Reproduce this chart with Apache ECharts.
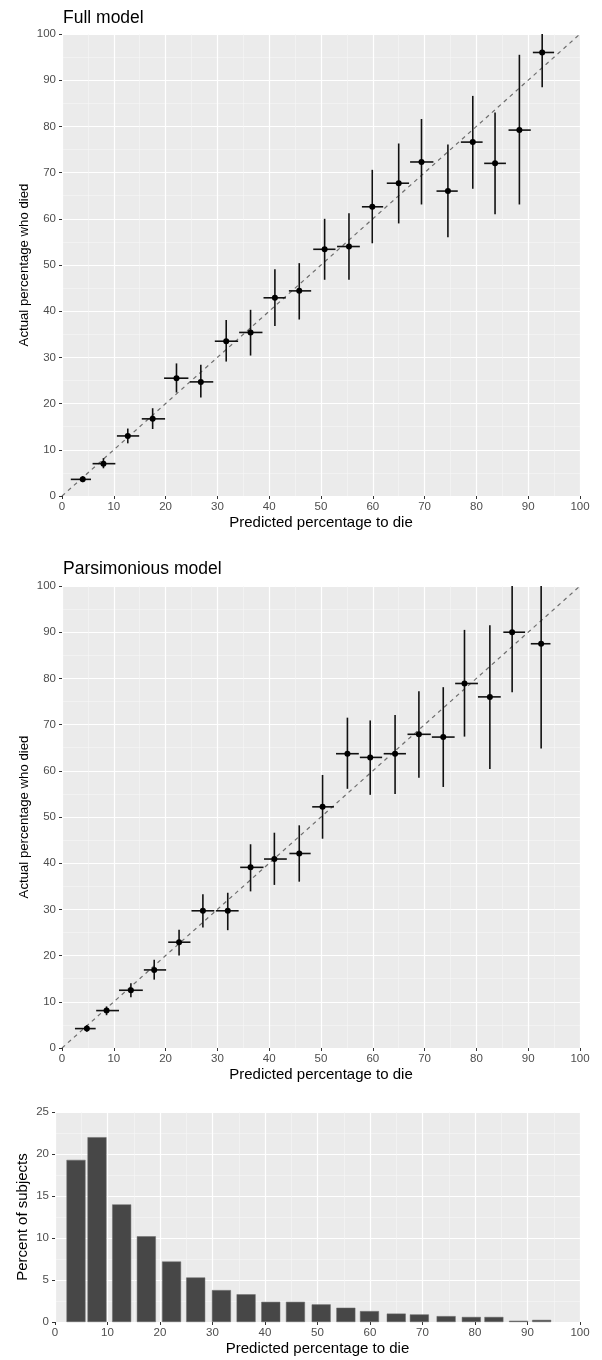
<!DOCTYPE html>
<html>
<head>
<meta charset="utf-8">
<script src="https://cdn.jsdelivr.net/npm/echarts@6/dist/echarts.min.js"></script>
<style>
  html, body { margin: 0; padding: 0; background: #fff; }
  #chart { width: 602px; height: 1360px; }
</style>
</head>
<body>
<div id="chart"></div>
<script>
// full model calibration groups
const fullX     = [4.0, 8.0, 12.7, 17.5, 22.1, 26.8, 31.7, 36.4, 41.1, 45.8, 50.7, 55.4, 59.9, 65.0, 69.4, 74.5, 79.3, 83.6, 88.3, 92.7];
const fullY     = [3.6, 7.0, 13.0, 16.7, 25.5, 24.7, 33.5, 35.4, 42.9, 44.4, 53.4, 54.0, 62.6, 67.7, 72.3, 66.0, 76.6, 72.0, 79.2, 96.0];
const fullYLow  = [3.0, 6.0, 11.4, 14.5, 22.4, 21.3, 29.1, 30.4, 36.8, 38.2, 46.8, 46.8, 54.7, 59.0, 63.1, 56.0, 66.5, 61.0, 63.1, 88.5];
const fullYHigh = [4.3, 8.2, 14.6, 19.0, 28.7, 28.4, 38.1, 40.3, 49.1, 50.4, 60.0, 61.2, 70.6, 76.3, 81.6, 76.1, 86.6, 83.0, 95.5, 100];
const fullXLow  = [1.7, 5.9, 10.6, 15.4, 19.7, 24.7, 29.5, 34.2, 38.9, 43.8, 48.5, 53.1, 57.9, 62.7, 67.2, 72.3, 77.0, 81.5, 86.2, 90.9];
const fullXHigh = [5.6, 10.3, 14.9, 19.9, 24.4, 29.2, 34.0, 38.7, 43.2, 48.1, 52.8, 57.5, 62.0, 67.0, 71.7, 76.4, 81.2, 85.7, 90.5, 95.0];

// parsimonious model calibration groups
const parsX     = [4.8, 8.6, 13.3, 17.8, 22.6, 27.2, 32.0, 36.4, 41.0, 45.8, 50.3, 55.1, 59.5, 64.3, 68.9, 73.6, 77.7, 82.6, 86.9, 92.5];
const parsY     = [4.2, 8.1, 12.5, 16.9, 22.9, 29.7, 29.7, 39.1, 40.9, 42.1, 52.2, 63.7, 62.9, 63.7, 67.9, 67.3, 78.9, 76.0, 90.0, 87.5];
const parsYLow  = [3.5, 7.1, 11.0, 14.8, 20.0, 26.1, 25.5, 33.9, 35.3, 36.0, 45.3, 56.1, 54.8, 55.0, 58.5, 56.5, 67.4, 60.4, 77.0, 64.8];
const parsYHigh = [4.9, 9.0, 14.0, 19.1, 25.6, 33.3, 33.6, 44.1, 46.6, 48.2, 59.1, 71.5, 70.9, 72.1, 77.2, 78.1, 90.5, 91.5, 100, 100];
const parsXLow  = [2.5, 6.6, 11.0, 15.8, 20.5, 25.0, 29.7, 34.4, 39.0, 43.9, 48.3, 52.9, 57.5, 62.1, 66.7, 71.4, 75.9, 80.3, 85.2, 90.5];
const parsXHigh = [6.5, 11.0, 15.6, 20.1, 24.8, 29.4, 34.1, 38.9, 43.4, 48.0, 52.5, 57.3, 61.8, 66.4, 71.2, 75.8, 80.3, 84.7, 89.4, 94.3];

// histogram of predicted risk
const histX   = [4.0, 8.0, 12.7, 17.4, 22.2, 26.8, 31.7, 36.4, 41.1, 45.8, 50.7, 55.4, 59.9, 65.0, 69.4, 74.5, 79.3, 83.6, 88.3, 92.7];
const histPct = [19.3, 22.0, 14.0, 10.2, 7.2, 5.3, 3.8, 3.3, 2.4, 2.4, 2.1, 1.7, 1.3, 1.0, 0.9, 0.7, 0.6, 0.6, 0.15, 0.25];

const diagonal = [[0, 0], [100, 100]];

const FONT = "'Liberation Sans', Arial, sans-serif";
const PANEL_BG = "#ebebeb";

function zip(x, y, yl, yh, xl, xh) {
  return x.map((v, i) => [v, y[i], yl[i], yh[i], xl[i], xh[i]]);
}

function renderCross(params, api) {
  const p = api.coord([api.value(0), api.value(1)]);
  const top = api.coord([api.value(0), api.value(3)]);
  const bot = api.coord([api.value(0), api.value(2)]);
  const left = api.coord([api.value(4), api.value(1)]);
  const right = api.coord([api.value(5), api.value(1)]);
  const st = { stroke: "#111", lineWidth: 1.6 };
  return {
    type: "group",
    children: [
      { type: "line", shape: { x1: top[0], y1: top[1], x2: bot[0], y2: bot[1] }, style: st },
      { type: "line", shape: { x1: left[0], y1: left[1], x2: right[0], y2: right[1] }, style: st },
      { type: "circle", shape: { cx: p[0], cy: p[1], r: 3 }, style: { fill: "#000" } },
    ],
  };
}

function xAxisOf(gridIndex) {
  return {
    type: "value",
    gridIndex,
    min: 0,
    max: 100,
    interval: 10,
    name: "Predicted percentage to die",
    nameLocation: "middle",
    nameGap: 19,
    nameMoveOverlap: false,
    nameTextStyle: { color: "#000", fontSize: 15, fontFamily: FONT },
    axisLine: { show: false },
    axisTick: { show: true, length: 3, lineStyle: { color: "#333", width: 1 } },
    axisLabel: { color: "#4d4d4d", fontSize: 11.5, fontFamily: FONT, margin: 5 },
    splitLine: { show: true, lineStyle: { color: "#fff", width: 1.2 } },
    minorTick: { show: false, splitNumber: 2 },
    minorSplitLine: { show: true, lineStyle: { color: "#f7f7f7", width: 0.6 } },
  };
}

function yAxisOf(gridIndex, max, interval, name, gap, nameSize) {
  return {
    type: "value",
    gridIndex,
    min: 0,
    max,
    interval,
    name,
    nameLocation: "middle",
    nameGap: gap,
    nameMoveOverlap: false,
    nameTextStyle: { color: "#000", fontSize: nameSize, fontFamily: FONT },
    axisLine: { show: false },
    axisTick: { show: true, length: 3, lineStyle: { color: "#333", width: 1 } },
    axisLabel: { color: "#4d4d4d", fontSize: 11.5, fontFamily: FONT, margin: 6 },
    splitLine: { show: true, lineStyle: { color: "#fff", width: 1.2 } },
    minorTick: { show: false, splitNumber: 2 },
    minorSplitLine: { show: true, lineStyle: { color: "#f7f7f7", width: 0.6 } },
  };
}

function diagSeries(idx) {
  return {
    type: "line",
    xAxisIndex: idx,
    yAxisIndex: idx,
    data: diagonal,
    symbol: "none",
    silent: true,
    lineStyle: { color: "#6e6e6e", width: 1.2, type: [4, 4] },
    z: 2,
  };
}

const chart = echarts.init(document.getElementById("chart"), null, { renderer: "canvas" });

chart.setOption({
  animation: false,
  backgroundColor: "#fff",
  title: [
    { text: "Full model", left: 58, top: 4, textStyle: { fontSize: 17.5, fontWeight: "normal", color: "#000", fontFamily: FONT } },
    { text: "Parsimonious model", left: 58, top: 555, textStyle: { fontSize: 17.5, fontWeight: "normal", color: "#000", fontFamily: FONT } },
  ],
  grid: [
    { left: 62, top: 34, width: 518, height: 462, show: true, backgroundColor: PANEL_BG, borderWidth: 0 },
    { left: 62, top: 586, width: 518, height: 462, show: true, backgroundColor: PANEL_BG, borderWidth: 0 },
    { left: 55, top: 1112, width: 525, height: 210, show: true, backgroundColor: PANEL_BG, borderWidth: 0 },
  ],
  xAxis: [xAxisOf(0), xAxisOf(1), xAxisOf(2)],
  yAxis: [
    yAxisOf(0, 100, 10, "Actual percentage who died", 31, 13.2),
    yAxisOf(1, 100, 10, "Actual percentage who died", 31, 13.2),
    yAxisOf(2, 25, 5, "Percent of subjects", 25, 15),
  ],
  series: [
    diagSeries(0),
    {
      type: "custom",
      xAxisIndex: 0,
      yAxisIndex: 0,
      clip: true,
      renderItem: renderCross,
      encode: { x: [0, 4, 5], y: [1, 2, 3] },
      data: zip(fullX, fullY, fullYLow, fullYHigh, fullXLow, fullXHigh),
      z: 3,
    },
    diagSeries(1),
    {
      type: "custom",
      xAxisIndex: 1,
      yAxisIndex: 1,
      clip: true,
      renderItem: renderCross,
      encode: { x: [0, 4, 5], y: [1, 2, 3] },
      data: zip(parsX, parsY, parsYLow, parsYHigh, parsXLow, parsXHigh),
      z: 3,
    },
    {
      type: "bar",
      xAxisIndex: 2,
      yAxisIndex: 2,
      barWidth: 19,
      data: histX.map((x, i) => [x, histPct[i]]),
      itemStyle: { color: "#474747", borderColor: "#6a6a6a", borderWidth: 0.5 },
    },
  ],
});
</script>
</body>
</html>
